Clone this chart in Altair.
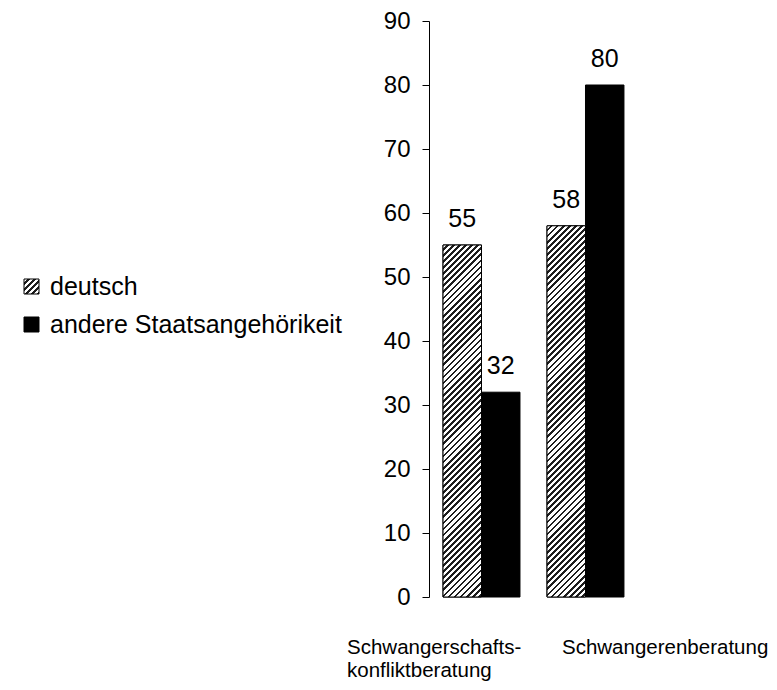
import math
import altair as alt
import pandas as pd

# ---------------- data ----------------
cat_keys = ["Schwangerschaftskonfliktberatung", "Schwangerenberatung"]
cat_labels = ["Schwangerschafts-\nkonfliktberatung", "Schwangerenberatung"]
series = ["deutsch", "andere Staatsangehörikeit"]
deutsch = [55, 58]
andere = [32, 80]
y_ticks = list(range(0, 100, 10))

# ---------------- layout / style ----------------
PLOT_W, PLOT_H = 209, 576
PAD_L, PAD_T = 421, 13
PAD_R = 761 - PAD_L - PLOT_W
PAD_B = 674 - PAD_T - PLOT_H
P_IN, P_OUT = 0.26, 0.135
FONT = "Liberation Sans"
STEP = PLOT_W / (len(cat_keys) - P_IN + 2 * P_OUT)
BAR_W = STEP * (1 - P_IN) / 2
PX_PER_UNIT = PLOT_H / 90
PERIOD = 4.3
DARK = "#1e1e1e"


def hatch_stops(r, w):
    """stops for 45deg '/' hatching in a bbox of width w, height r*w"""
    t_max = (1 + r) / (1 + r * r)
    dt = PERIOD * math.sqrt(2) / (w * (1 + r * r))
    stops = []
    t = 0.0
    while t < t_max + dt and t < 1:
        a = round(min(t, 1), 6)
        b = round(min(t + dt * 0.55, 1), 6)
        c = round(min(t + dt, 1), 6)
        stops += [
            {"offset": a, "color": "white"},
            {"offset": b, "color": "white"},
            {"offset": b, "color": DARK},
            {"offset": c, "color": DARK},
        ]
        t += dt
    return stops


def hatch_gradient(h, w):
    r = h / w
    return {"gradient": "linear", "x1": 0, "y1": 0, "x2": 1, "y2": r,
            "stops": hatch_stops(r, w)}


SYM = 15
leg_stops = hatch_stops(1.0, SYM)
leg_expr = "{gradient:'linear',x1:0,y1:0,x2:1,y2:1,stops:[" + ",".join(
    "{offset:%s,color:'%s'}" % (s["offset"], s["color"]) for s in leg_stops) + "]}"

rows = []
for i, k in enumerate(cat_keys):
    rows.append({"cat": k, "series": series[0], "value": deutsch[i], "label": cat_labels[i]})
    rows.append({"cat": k, "series": series[1], "value": andere[i], "label": cat_labels[i]})
df = pd.DataFrame(rows)

x_enc = alt.X("cat:N", sort=cat_keys,
              scale=alt.Scale(domain=cat_keys, paddingInner=P_IN, paddingOuter=P_OUT),
              axis=None)
xo_enc = alt.XOffset("series:N", sort=series,
                     scale=alt.Scale(domain=series, paddingInner=0, paddingOuter=0))
y_enc = alt.Y("value:Q", scale=alt.Scale(domain=[0, 90], nice=False, zero=True),
              axis=alt.Axis(values=y_ticks, grid=False, title=None,
                            domainColor="black", domainWidth=1,
                            tickColor="black", tickSize=7, tickWidth=1,
                            labelFont=FONT, labelFontSize=24, labelColor="black",
                            labelPadding=12))

base = alt.Chart(df).mark_bar(stroke="black", strokeWidth=1).encode(
    x=x_enc, xOffset=xo_enc, y=y_enc,
    fill=alt.Fill("series:N", sort=series,
                  scale=alt.Scale(domain=series, range=[{"expr": leg_expr}, "black"]),
                  legend=alt.Legend(title=None, orient="none", legendX=-410, legendY=253,
                                    symbolType="square", symbolSize=SYM * SYM,
                                    symbolStrokeColor="black", symbolStrokeWidth=1,
                                    labelFont=FONT, labelFontSize=25, labelColor="black",
                                    labelOffset=6, rowPadding=12, padding=0,
                                    labelLimit=400)),
)

layers = [base]
for i, k in enumerate(cat_keys):
    sub = df[(df["cat"] == k) & (df["series"] == series[0])]
    g = hatch_gradient(deutsch[i] * PX_PER_UNIT, BAR_W)
    layers.append(
        alt.Chart(sub).mark_bar(fill=g, stroke="black", strokeWidth=1).encode(
            x=x_enc, xOffset=xo_enc, y=y_enc)
    )

labels = alt.Chart(df).mark_text(font=FONT, fontSize=25, color="black",
                                 baseline="alphabetic", dy=-18).encode(
    x=x_enc, xOffset=xo_enc, y=y_enc, text="value:Q")
layers.append(labels)

cat_dx = [-134.5, -23.5]
for i, k in enumerate(cat_keys):
    sub = df[(df["cat"] == k) & (df["series"] == series[0])]
    layers.append(
        alt.Chart(sub).mark_text(font=FONT, fontSize=20.5, color="black", align="left",
                                 baseline="alphabetic", lineBreak="\n", lineHeight=22.5,
                                 dx=cat_dx[i], dy=57).encode(
            x=x_enc, y=alt.datum(0), text="label:N")
    )

chart = alt.layer(*layers).properties(
    width=PLOT_W, height=PLOT_H, autosize="none",
    padding={"left": PAD_L, "top": PAD_T, "right": PAD_R, "bottom": PAD_B},
).configure(background="white", view=alt.ViewConfig(stroke=None))

chart.save("out.html", embed_options={"renderer": "svg", "actions": False})
